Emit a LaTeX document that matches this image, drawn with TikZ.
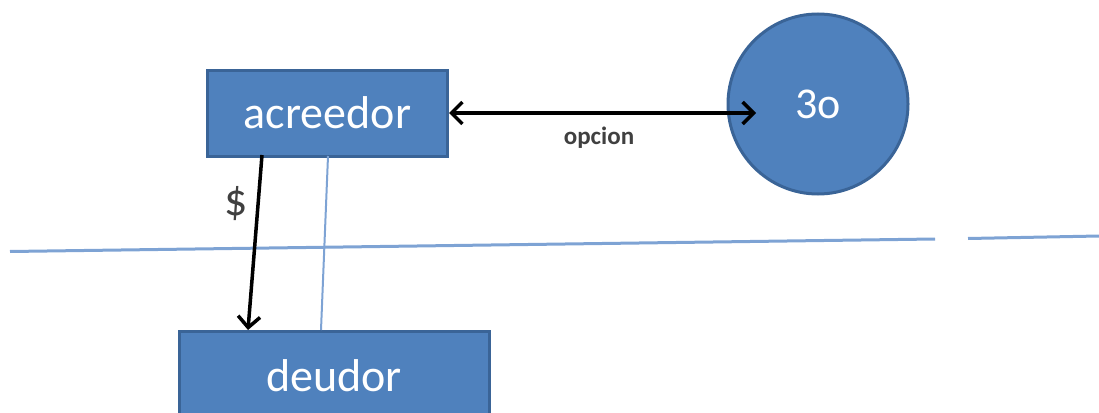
\documentclass[tikz,border=0pt]{standalone}
\usepackage{fontspec}
\setmainfont{Carlito}
\usetikzlibrary{arrows.meta}
\definecolor{boxfill}{HTML}{4F81BD}
\definecolor{boxline}{HTML}{3A6497}
\definecolor{thinblue}{HTML}{7EA3D4}
\definecolor{labgray}{HTML}{404040}
\tikzset{
  boxnode/.style={draw=boxline, line width=3pt, fill=boxfill, text=white, inner sep=0pt, font=\fontsize{46}{52}\selectfont},
  circnode/.style={circle, draw=boxline, line width=3pt, fill=boxfill, text=white, inner sep=0pt, minimum size=180pt, font=\fontsize{44}{50}\selectfont},
  mybarb/.tip={Straight Barb[length=11pt,width=22pt,line width=3.5pt]},
  conn/.style={line width=3.5pt, draw=black, -{mybarb}},
  thin/.style={draw=thinblue, line width=2pt},
}
\begin{document}
\begin{tikzpicture}[x=1pt,y=-1pt]
\useasboundingbox (0,0) rectangle (1099,412);
% horizontal separator
\coordinate (hl1) at (10,251.5);
\coordinate (hl2) at (935,239);
\coordinate (hl3) at (968,238.5);
\coordinate (hl4) at (1099,236);
\draw[thin, line width=3pt] (hl1) -- (hl2);
\draw[thin, line width=3pt] (hl3) -- (hl4);
% nodes
\node[boxnode, minimum width=240pt, minimum height=86pt] (acr) at (327.5,113) {acreedor};
\node[boxnode, minimum width=310pt, minimum height=90pt] (deu) at (334,376) {deudor};
\node[circnode] (tres) at (818,104) {3o};
% thin vertical line
\coordinate (vt) at (328,156);
\coordinate (vb) at (321,330);
\draw[thin] (vt) -- (vb);
% $ arrow
\coordinate (ds) at (262,155);
\coordinate (de) at (248,330);
\draw[conn] (ds) -- (de);
\node[text=labgray, font=\fontsize{46}{50}\selectfont] (dol) at (236,204) {\$};
% opcion double arrow
\draw[conn, {mybarb}-{mybarb}] (acr.east) -- ([xshift=-62pt]tres.center |- acr.east) coordinate (oe);
\node[text=labgray, font=\bfseries\fontsize{25}{28}\selectfont] (opc) at (599,138) {opcion};
\end{tikzpicture}
\end{document}
